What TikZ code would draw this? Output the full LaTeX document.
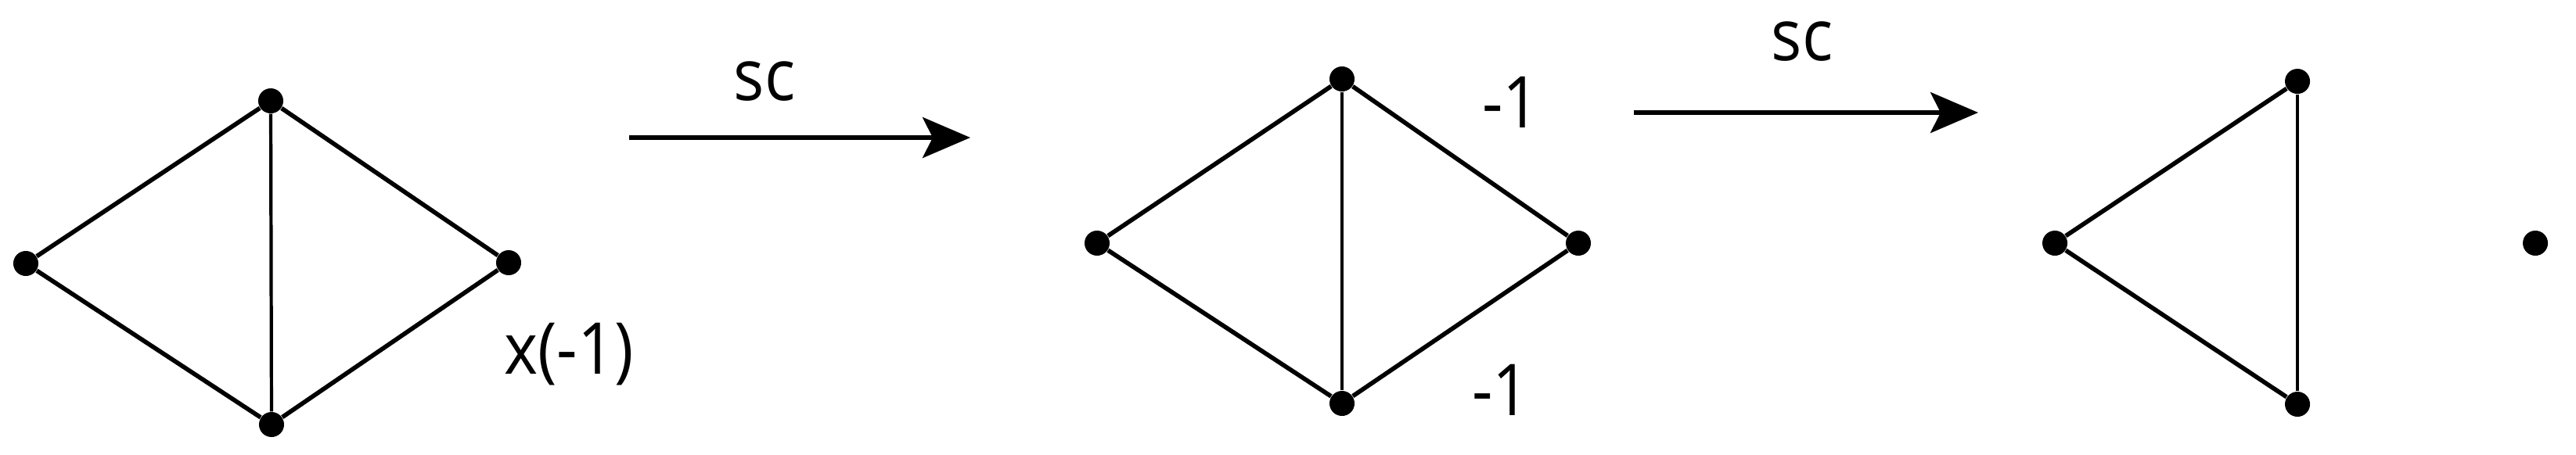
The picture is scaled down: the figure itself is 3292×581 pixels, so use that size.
\documentclass[tikz,border=0pt]{standalone}
\usepackage{fontspec}
\setmainfont{Open Sans}
\usetikzlibrary{arrows.meta}
\begin{document}
\begin{tikzpicture}[x=0.01cm,y=-0.01cm,
  vdot/.style={circle,fill=black,inner sep=0pt,minimum size=0.32cm},
  edge/.style={line width=1.6pt},
  vedge/.style={line width=1.2pt},
  maparrow/.style={line width=1.5pt,-{Stealth[length=0.61cm,width=0.52cm,inset=0.13cm]}},
  lbl/.style={inner sep=0pt,font=\fontsize{26}{30}\selectfont}]
\useasboundingbox (0,0) rectangle (3292,581);
% graph 1
\node[vdot] (a1) at (33,337) {};
\node[vdot] (b1) at (346,129) {};
\node[vdot] (c1) at (650,336) {};
\node[vdot] (d1) at (347,543) {};
\draw[edge] (a1) -- (b1) -- (c1) -- (d1) -- (a1);
\draw[vedge] (b1) -- (d1);
\node[lbl] (x1) at (727,453) {\scalebox{0.9}[1]{x(-1)}};
% arrow 1
\coordinate (s1) at (804,176);
\coordinate (e1) at (1240,176);
\draw[maparrow] (s1) -- (e1);
\node[lbl] (sc1) at (977,104) {\scalebox{0.9}[1]{sc}};
% graph 2
\node[vdot] (a2) at (1402,311) {};
\node[vdot] (b2) at (1715,101) {};
\node[vdot] (c2) at (2017,311) {};
\node[vdot] (d2) at (1715,516) {};
\draw[edge] (a2) -- (b2) -- (c2) -- (d2) -- (a2);
\draw[vedge] (b2) -- (d2);
\node[lbl] (m1) at (1931,131) {\scalebox{0.9}[1]{-1}};
\node[lbl] (m2) at (1918,499) {\scalebox{0.9}[1]{-1}};
% arrow 2
\coordinate (s2) at (2088,144);
\coordinate (e2) at (2528,144);
\draw[maparrow] (s2) -- (e2);
\node[lbl] (sc2) at (2303,53) {\scalebox{0.9}[1]{sc}};
% graph 3
\node[vdot] (a3) at (2626,311) {};
\node[vdot] (b3) at (2936,104) {};
\node[vdot] (d3) at (2936,517) {};
\draw[edge] (d3) -- (a3) -- (b3);
\draw[vedge] (b3) -- (d3);
\node[vdot] (p3) at (3240,311) {};
\end{tikzpicture}
\end{document}
